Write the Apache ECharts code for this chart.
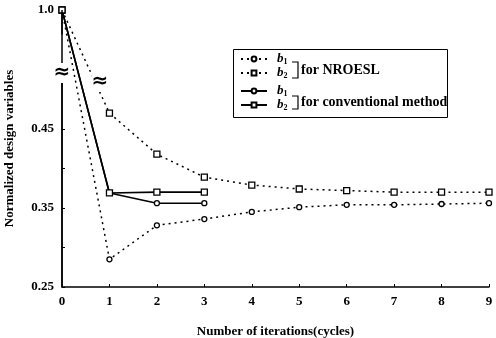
<!DOCTYPE html>
<html>
<head>
<meta charset="utf-8">
<script src="https://cdn.jsdelivr.net/npm/echarts@6/dist/echarts.min.js"></script>
<style>html,body{margin:0;padding:0;background:#fff}#c{width:496px;height:338px}</style>
</head>
<body>
<div id="c"></div>
<script>
var iterations = [0,1,2,3,4,5,6,7,8,9];
var nroeslB1 = [1.0, 0.285, 0.328, 0.336, 0.345, 0.351, 0.354, 0.354, 0.355, 0.356];
var nroeslB2 = [1.0, 0.470, 0.418, 0.389, 0.379, 0.374, 0.372, 0.370, 0.370, 0.370];
var convIter = [0,1,2,3];
var convB1 = [1.0, 0.369, 0.356, 0.356];
var convB2 = [1.0, 0.369, 0.370, 0.370];
var yTickLabels = [0.25, 0.35, 0.45, 1.0];
var yTicks = [0.25, 0.30, 0.35, 0.40, 0.45, 1.0];
var xTickLabels = [0,1,2,3,4,5,6,7,8,9];

function pairs(xs, ys){ return xs.map(function(x,i){ return [x, ys[i]]; }); }

var FONT = 'Liberation Serif';
var chart = echarts.init(document.getElementById('c'), null, {renderer:'canvas'});
var dotted = {color:'#000', width:1.5, type:[2,4]};
var solid = {color:'#000', width:1.6, type:'solid'};
var sym = {color:'#fff', borderColor:'#000', borderWidth:1.3};
var names = {
  'b1 NROESL': '1', 'b2 NROESL': '2', 'b1 conventional': '1', 'b2 conventional': '2'
};
var legendText = {
  fontFamily: FONT,
  lineHeight:14,
  rich: {
    b: {fontFamily: FONT, fontStyle:'italic', fontWeight:'bold', fontSize:13, color:'#000', lineHeight:14, verticalAlign:'middle', padding:[0,0,0,5]},
    s: {fontFamily: FONT, fontWeight:'bold', fontSize:8, color:'#000', lineHeight:14, verticalAlign:'bottom'}
  }
};
function legendFmt(n){ return '{b|b}{s|' + names[n] + '}'; }

chart.setOption({
  animation:false,
  backgroundColor:'#fff',
  grid:{left:62, right:7, top:10, bottom:51, outerBoundsMode:'none'},
  xAxis:{
    type:'value', min:0, max:9, interval:1,
    name:'Number of iterations(cycles)', nameLocation:'middle', nameGap:38,
    nameTextStyle:{fontFamily:FONT, fontWeight:'bold', fontSize:13, color:'#000'},
    axisLine:{lineStyle:{color:'#000', width:1.5}},
    axisTick:{inside:true, length:3, lineStyle:{color:'#000'}},
    axisLabel:{fontFamily:FONT, fontWeight:'bold', fontSize:13, color:'#000', margin:8,
      customValues: xTickLabels},
    splitLine:{show:false}
  },
  yAxis:{
    type:'value', min:0.25, max:1.0,
    breaks:[{start:0.52, end:0.97, gap:'14.4%'}],
    breakArea:{itemStyle:{opacity:0, borderWidth:0}},
    name:'Normalized design variables', nameLocation:'middle', nameGap:46,
    nameTextStyle:{fontFamily:FONT, fontWeight:'bold', fontSize:13, color:'#000'},
    axisLine:{show:true, lineStyle:{color:'#000', width:1.5}},
    axisTick:{show:true, inside:true, length:3, lineStyle:{color:'#000'}, customValues: yTicks},
    axisLabel:{fontFamily:FONT, fontWeight:'bold', fontSize:13, color:'#000', margin:8,
      customValues: yTickLabels,
      formatter:function(v){ return v === 1 ? '1.0' : v.toFixed(2); }},
    splitLine:{show:false}
  },
  legend:[
    {data:['b1 NROESL','b2 NROESL'], orient:'vertical', left:240, top:52, itemWidth:26, itemHeight:6, itemGap:0,
     formatter:legendFmt, textStyle:legendText, padding:0, selectedMode:false},
    {data:['b1 conventional','b2 conventional'], orient:'vertical', left:240, top:84, itemWidth:26, itemHeight:6, itemGap:0,
     formatter:legendFmt, textStyle:legendText, padding:0, selectedMode:false}
  ],
  graphic:[
    {type:'line', shape:{x1:62, y1:10, x2:62, y2:287}, style:{stroke:'#000', lineWidth:1.5}, z:50},
    {type:'rect', shape:{x:233.5, y:49.5, width:214, height:68}, style:{fill:'none', stroke:'#000', lineWidth:1}, z:100},
    {type:'polyline', shape:{points:[[292,62],[298,62],[298,78],[292,78]]}, style:{fill:'none', stroke:'#000', lineWidth:1.2}, z:100},
    {type:'polyline', shape:{points:[[292,96],[298,96],[298,109],[292,109]]}, style:{fill:'none', stroke:'#000', lineWidth:1.2}, z:100},
    {type:'text', x:301, y:70, style:{text:'for NROESL', font:'bold 14px "Liberation Serif"', fill:'#000', verticalAlign:'middle'}, z:100},
    {type:'text', x:301, y:102, style:{text:'for conventional method', font:'bold 14px "Liberation Serif"', fill:'#000', verticalAlign:'middle'}, z:100},
    {type:'text', x:62, y:73, style:{text:'\u2248', font:'bold 20px "DejaVu Sans"', fill:'#000', align:'center', verticalAlign:'middle', backgroundColor:'#fff'}, z:100},
    {type:'text', x:100, y:82, style:{text:'\u2248', font:'bold 20px "DejaVu Sans"', fill:'#000', align:'center', verticalAlign:'middle', backgroundColor:'#fff'}, z:100}
  ],
  series:[
    {name:'b1 NROESL', type:'line', data:pairs(iterations, nroeslB1), symbol:'circle', symbolSize:5, showAllSymbol:true,
     lineStyle:dotted, itemStyle:sym, color:'#000', z:3},
    {name:'b2 NROESL', type:'line', data:pairs(iterations, nroeslB2), symbol:'rect', symbolSize:6, showAllSymbol:true,
     lineStyle:dotted, itemStyle:sym, color:'#000', z:3},
    {name:'b1 conventional', type:'line', data:pairs(convIter, convB1), symbol:'circle', symbolSize:5,
     lineStyle:solid, itemStyle:sym, color:'#000', z:4},
    {name:'b2 conventional', type:'line', data:pairs(convIter, convB2), symbol:'rect', symbolSize:6,
     lineStyle:solid, itemStyle:sym, color:'#000', z:4}
  ]
});
</script>
</body>
</html>
